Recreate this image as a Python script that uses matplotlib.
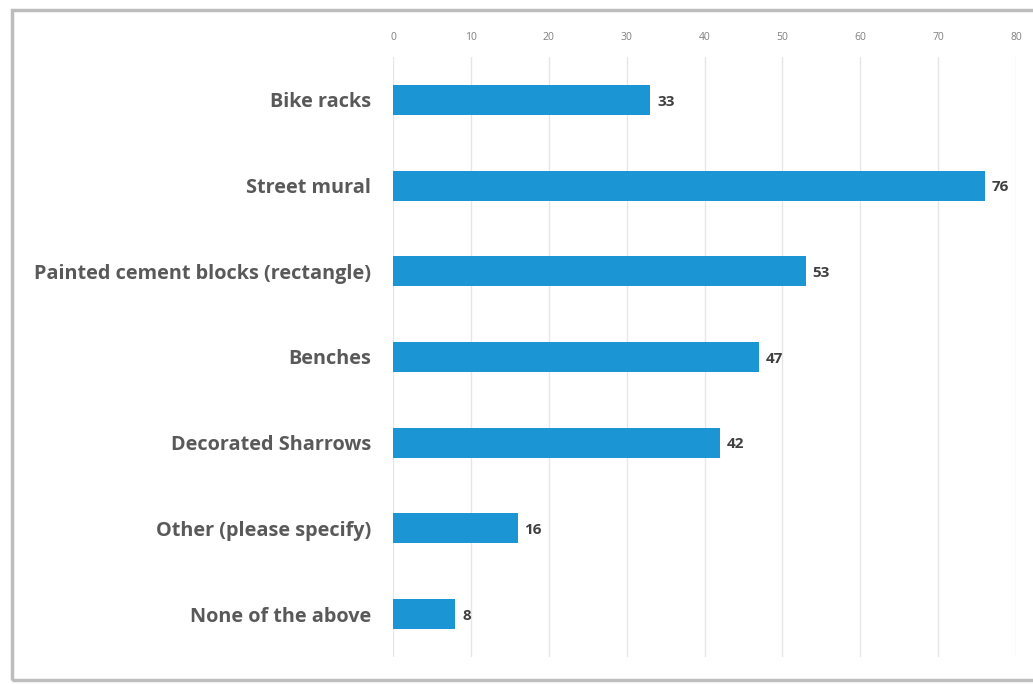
import matplotlib
matplotlib.use("Agg")
import matplotlib.pyplot as plt
from matplotlib.patches import Rectangle

plt.rcParams['font.family'] = ['Open Sans', 'DejaVu Sans']

categories = ['Bike racks', 'Street mural', 'Painted cement blocks (rectangle)',
              'Benches', 'Decorated Sharrows', 'Other (please specify)',
              'None of the above']
values = [33, 76, 53, 47, 42, 16, 8]
ticks = [0, 10, 20, 30, 40, 50, 60, 70, 80]

fig = plt.figure(figsize=(10.33, 6.84), dpi=100)
# outer frame like the screenshot
fig.patches.append(Rectangle((12 / 1033, 4 / 684), 1.0, 670 / 684, transform=fig.transFigure,
                             fill=False, edgecolor='#bdbdbd', linewidth=2.5))
ax = fig.add_axes([393 / 1033, 27 / 684, 623 / 1033, 600 / 684])

y = list(range(len(categories)))
ax.barh(y, values, height=0.35, color='#1b95d3', zorder=3)
for yi, v in zip(y, values):
    ax.text(v + 0.9, yi + 0.02, str(v), va='center', ha='left', fontsize=11,
            fontweight='bold', color='#404040')

ax.set_xlim(0, 80)
ax.set_ylim(len(categories) - 0.5, -0.5)
ax.set_xticks(ticks)
ax.xaxis.tick_top()
ax.tick_params(axis='x', length=0, labelsize=7.5, labelcolor='#7f7f7f', pad=10)
ax.set_yticks(y)
ax.set_yticklabels(categories, fontsize=14.3, fontweight='bold', color='#595959')
ax.tick_params(axis='y', length=0, pad=16)
ax.grid(axis='x', color='#e6e6e6', linewidth=1, zorder=0)
for s in ax.spines.values():
    s.set_visible(False)

fig.savefig('out.png', dpi=100)
